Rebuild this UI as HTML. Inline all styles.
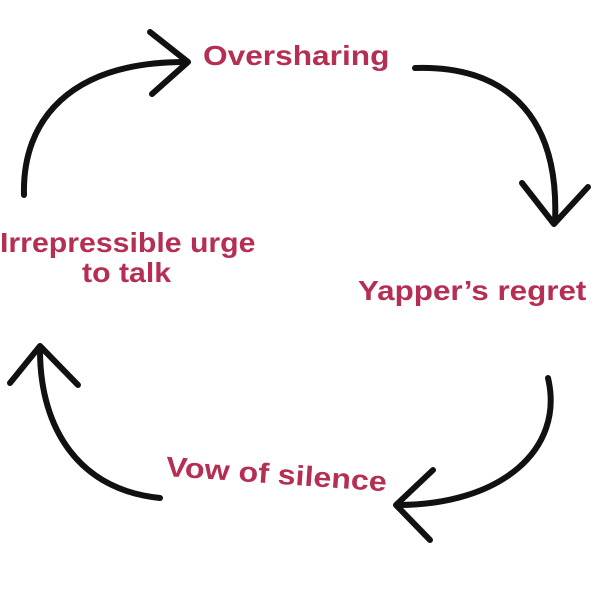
<!DOCTYPE html>
<html><head><style>
body{margin:0;width:600px;height:596px;background:#fff;overflow:hidden;position:relative;font-family:"Liberation Sans",sans-serif;}
.t{position:absolute;color:#b52f52;font-weight:bold;font-size:28px;white-space:nowrap;line-height:1;transform-origin:left center;}
</style></head><body>
<svg width="600" height="596" style="position:absolute;left:0;top:0" fill="none" stroke="#111" stroke-width="6" stroke-linecap="round" stroke-linejoin="round">
<path d="M24 195 C22 120 70 62 185 62"/>
<path d="M150 32 L188 62 L152 94"/>
<path d="M415 68 C500 65 560 110 555 222"/>
<path d="M522 183 L554 224 L588 187"/>
<path d="M548 378 C565 450 500 505 398 505"/>
<path d="M433 470 L396 505 L430 540"/>
<path d="M160 498 C80 490 40 430 40 350"/>
<path d="M10 383 L40 346 L78 385"/>
</svg>
<div class="t" style="left:203px;top:42px;transform:scaleX(1.13)">Oversharing</div>
<div class="t" style="left:0;top:229px;transform:scaleX(1.08)">Irrepressible urge</div>
<div class="t" style="left:82px;top:259px;transform:scaleX(1.08)">to talk</div>
<div class="t" style="left:358px;top:277px;transform:scaleX(1.12)">Yapper’s regret</div>
<div class="t" style="left:166px;top:453px;transform:rotate(4deg) scaleX(1.15)">Vow of silence</div>
</body></html>
